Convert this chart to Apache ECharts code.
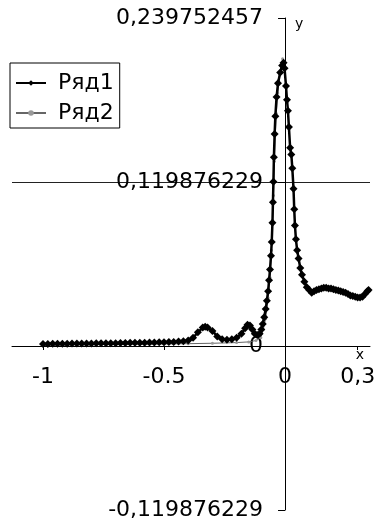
<!DOCTYPE html>
<html>
<head>
<meta charset="utf-8">
<script src="https://cdn.jsdelivr.net/npm/echarts@6/dist/echarts.min.js"></script>
<style>
  html, body { margin: 0; padding: 0; background: #fff; }
  #chart { width: 377px; height: 520px; }
</style>
</head>
<body>
<div id="chart"></div>
<script>
// series names
const seriesNames = ['Ряд1', 'Ряд2'];

// Ряд1: main curve (x, y)
const row1X = [-1, -0.98, -0.96, -0.94, -0.92, -0.9, -0.88, -0.86, -0.84, -0.82, -0.8, -0.78, -0.76, -0.74, -0.72, -0.7,
  -0.68, -0.66, -0.64, -0.62, -0.6, -0.58, -0.56, -0.54, -0.52, -0.5, -0.48, -0.46, -0.44, -0.42,
  -0.4, -0.38, -0.36, -0.34, -0.33, -0.32, -0.3, -0.28, -0.26, -0.24, -0.22, -0.2, -0.18, -0.165, -0.155, -0.145,
  -0.135, -0.125, -0.115, -0.105, -0.098, -0.092, -0.086, -0.08, -0.075, -0.07, -0.066, -0.062, -0.058, -0.055,
  -0.052, -0.05, -0.048, -0.046, -0.043, -0.04, -0.035, -0.029, -0.02, -0.012, -0.006, -0.002, 0.004, 0.008,
  0.012, 0.016, 0.021, 0.026, 0.03, 0.035, 0.038, 0.041, 0.045, 0.05, 0.056, 0.063, 0.07, 0.08, 0.09, 0.1, 0.11,
  0.12, 0.13, 0.14, 0.15, 0.16, 0.17, 0.18, 0.19, 0.2, 0.21, 0.22, 0.23, 0.24, 0.25, 0.26, 0.27, 0.28, 0.29,
  0.3, 0.31, 0.32, 0.33, 0.34, 0.345];
const row1Y = [0.0015, 0.0015, 0.0016, 0.0016, 0.0017, 0.0017, 0.0018, 0.0018, 0.0018, 0.0019, 0.0019, 0.002, 0.002, 0.002, 0.0021, 0.0021,
  0.0022, 0.0022, 0.0023, 0.0023, 0.0024, 0.0024, 0.0025, 0.0026, 0.0027, 0.0028, 0.0029, 0.003, 0.0032, 0.0035,
  0.004, 0.006, 0.01, 0.0135, 0.014, 0.0135, 0.011, 0.007, 0.005, 0.0045, 0.005, 0.006, 0.009, 0.013, 0.0155, 0.015,
  0.012, 0.009, 0.008, 0.009, 0.012, 0.016, 0.021, 0.027, 0.033, 0.04, 0.048, 0.056, 0.066, 0.076,
  0.09, 0.105, 0.12, 0.138, 0.155, 0.168, 0.182, 0.192, 0.2, 0.205, 0.207, 0.203, 0.19, 0.18,
  0.172, 0.16, 0.145, 0.14, 0.13, 0.115, 0.1, 0.088, 0.078, 0.07, 0.064, 0.057, 0.052, 0.047, 0.043, 0.041, 0.039,
  0.04, 0.041, 0.0415, 0.042, 0.0425, 0.0425, 0.042, 0.042, 0.0415, 0.041, 0.0405, 0.04, 0.0395, 0.039, 0.038, 0.037, 0.0365, 0.036,
  0.0355, 0.0355, 0.036, 0.038, 0.04, 0.041];

// Ряд2: baseline + thin rising branch
const row2X = [-1, -0.9, -0.8, -0.7, -0.6, -0.5, -0.4, -0.3, -0.2, -0.15, -0.12, -0.1, -0.09, -0.08, -0.07,
  -0.062, -0.056, -0.052, -0.048, -0.044, -0.04, -0.036, -0.03, -0.02, -0.01];
const row2Y = [0.001, 0.001, 0.001, 0.0012, 0.0013, 0.0015, 0.0017, 0.002, 0.0025, 0.003, 0.004, 0.006, 0.012, 0.02, 0.035,
  0.05, 0.07, 0.09, 0.11, 0.135, 0.155, 0.17, 0.185, 0.2, 0.21];

// axes
const xMin = -1.128;
const xMax = 0.351;
const xTickValues = [-1, -0.5, 0, 0.3];
const xTickLabels = ['-1', '-0.5', '0', '0,3'];
const yMin = -0.119876229;
const yMax = 0.239752457;
const yStep = 0.119876229;
const yTickValues = [-0.119876229, 0, 0.119876229, 0.239752457];
const yTickLabels = ['-0,119876229', '0', '0,119876229', '0,239752457'];

const FONT = 'DejaVu Sans';
const W = 377, H = 520;
const gridBox = { left: 12, right: 7, top: 18, bottom: 10 };
const gridW = W - gridBox.left - gridBox.right;
const gridH = H - gridBox.top - gridBox.bottom;

// axes cross at (0, 0): move them from the grid edges to the zero lines
const yAxisOffset = -gridW * (0 - xMin) / (xMax - xMin);
const xAxisOffset = -gridH * (0 - yMin) / (yMax - yMin);

function pickLabel(values, labels, v) {
  let best = 0;
  values.forEach((t, i) => {
    if (Math.abs(t - v) < Math.abs(values[best] - v)) best = i;
  });
  return labels[best];
}

const chart = echarts.init(document.getElementById('chart'), null, { renderer: 'canvas' });

const option = {
  animation: false,
  backgroundColor: '#fff',
  textStyle: { fontFamily: FONT, color: '#000' },
  grid: Object.assign({ containLabel: false, outerBoundsMode: 'none' }, gridBox),
  legend: {
    orient: 'vertical',
    left: 10,
    top: 63,
    padding: [9, 6, 4, 5],
    itemGap: 8,
    itemWidth: 30,
    itemHeight: 7,
    borderColor: '#000',
    borderWidth: 1,
    backgroundColor: '#fff',
    textStyle: { fontFamily: FONT, fontSize: 22, color: '#000', padding: [0, 0, 0, 7] },
    data: seriesNames
  },
  xAxis: {
    type: 'value',
    min: xMin,
    max: xMax,
    position: 'bottom',
    offset: xAxisOffset,
    name: 'x',
    nameLocation: 'end',
    nameGap: -10,
    nameTextStyle: { fontFamily: FONT, fontSize: 14, color: '#000', verticalAlign: 'top', align: 'center', padding: [2, 0, 0, 0] },
    axisLine: { onZero: false, lineStyle: { color: '#000', width: 1 } },
    axisTick: { show: true, customValues: xTickValues, length: 4, lineStyle: { color: '#000' } },
    axisLabel: {
      customValues: xTickValues,
      margin: 20,
      fontFamily: FONT,
      fontSize: 22,
      color: '#000',
      formatter: v => pickLabel(xTickValues, xTickLabels, v)
    },
    splitLine: { show: false }
  },
  yAxis: {
    type: 'value',
    min: yMin,
    max: yMax,
    interval: yStep,
    position: 'left',
    offset: yAxisOffset,
    name: 'y',
    nameLocation: 'end',
    nameGap: -6,
    nameTextStyle: { fontFamily: FONT, fontSize: 14, color: '#000', align: 'left', verticalAlign: 'middle', padding: [0, 0, 0, 10] },
    axisLine: { onZero: false, lineStyle: { color: '#000', width: 1 } },
    axisTick: { show: true, customValues: yTickValues, length: 7, lineStyle: { color: '#000' } },
    axisLabel: {
      customValues: yTickValues,
      margin: 22,
      fontFamily: FONT,
      fontSize: 22,
      color: '#000',
      formatter: v => pickLabel(yTickValues, yTickLabels, v)
    },
    splitLine: { show: true, showMinLine: false, showMaxLine: false, lineStyle: { color: '#222', width: 1 } }
  },
  series: [
    {
      name: seriesNames[0],
      type: 'line',
      data: row1X.map((x, i) => [x, row1Y[i]]),
      symbol: 'diamond',
      symbolSize: 8,
      showAllSymbol: true,
      itemStyle: { color: '#000' },
      lineStyle: { color: '#000', width: 2.5 },
      z: 3
    },
    {
      name: seriesNames[1],
      type: 'line',
      data: row2X.map((x, i) => [x, row2Y[i]]),
      symbol: 'circle',
      symbolSize: 3,
      showAllSymbol: true,
      itemStyle: { color: '#999' },
      lineStyle: { color: '#666', width: 1 },
      z: 2
    }
  ]
};

chart.setOption(option);
window.addEventListener('resize', () => chart.resize());
</script>
</body>
</html>
